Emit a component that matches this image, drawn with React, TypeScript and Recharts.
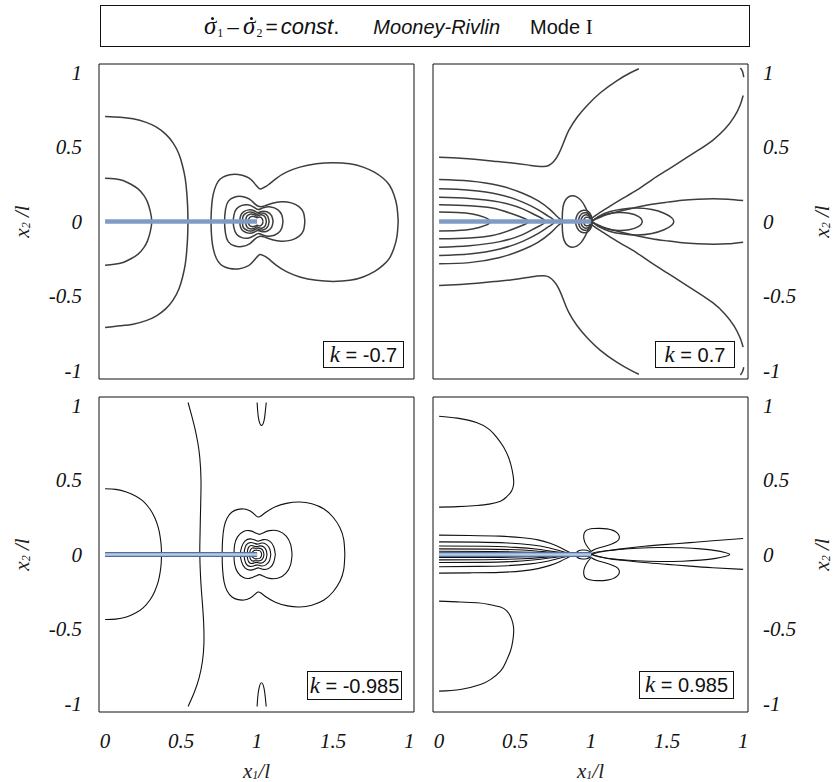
import React from 'react';
import { LineChart, Line, XAxis, YAxis } from 'recharts';

type P = [number, number][];

// ---------- axis ticks / labels ----------
const xFrameTicks = [0, 0.25, 0.5, 0.75, 1, 1.25, 1.5, 1.75, 2];
const yFrameTicks = [-1, -0.75, -0.5, -0.25, 0, 0.25, 0.5, 0.75, 1];
const xLabelTicks = [0, 0.5, 1, 1.5, 2];
const xTickLabels = ['0', '0.5', '1', '1.5', '1'];
const yLabelTicks = [-1, -0.5, 0, 0.5, 1];
const yTickLabels = ['-1', '-0.5', '0', '0.5', '1'];
const kLabels = ['-0.7', '0.7', '-0.985', '0.985'];
const crack: P = [[0, 0], [1, 0]];

// ---------- k = -0.7 (top left) ----------
const tlOuterArc: P = [[0,0.705],[0.1,0.7],[0.184,0.689],[0.27,0.665],[0.338,0.633],[0.4,0.585],[0.447,0.528],[0.485,0.455],[0.509,0.376],[0.527,0.29],[0.537,0.197],[0.543,0.1],[0.545,0],[0.543,-0.1],[0.537,-0.197],[0.527,-0.29],[0.509,-0.376],[0.485,-0.455],[0.447,-0.528],[0.4,-0.585],[0.338,-0.633],[0.27,-0.665],[0.184,-0.689],[0.1,-0.7],[0,-0.712]];
const tlInnerArc: P = [[0,0.291],[0.06,0.287],[0.118,0.275],[0.17,0.25],[0.217,0.219],[0.255,0.175],[0.279,0.13],[0.297,0.07],[0.307,0],[0.297,-0.07],[0.279,-0.13],[0.255,-0.175],[0.217,-0.219],[0.17,-0.25],[0.118,-0.275],[0.06,-0.287],[0,-0.293]];
const tlPeanutA: P = [[1.928,0],[1.92,0.1],[1.9,0.18],[1.87,0.245],[1.829,0.29],[1.774,0.33],[1.697,0.365],[1.61,0.387],[1.5,0.394],[1.39,0.387],[1.281,0.365],[1.193,0.331],[1.127,0.29],[1.072,0.245],[1.04,0.226],[1.018,0.219],[0.996,0.24],[0.963,0.278],[0.93,0.3],[0.875,0.315],[0.82,0.313],[0.776,0.298],[0.743,0.268],[0.721,0.219],[0.706,0.152],[0.699,0.074],[0.697,0],[0.699,-0.074],[0.706,-0.152],[0.721,-0.219],[0.743,-0.268],[0.776,-0.3],[0.82,-0.316],[0.875,-0.318],[0.93,-0.303],[0.963,-0.28],[0.996,-0.242],[1.018,-0.221],[1.04,-0.228],[1.072,-0.248],[1.127,-0.294],[1.193,-0.336],[1.281,-0.372],[1.39,-0.395],[1.5,-0.402],[1.61,-0.395],[1.697,-0.372],[1.774,-0.335],[1.829,-0.293],[1.87,-0.247],[1.9,-0.18],[1.92,-0.1],[1.928,0]];
const tlPeanutB: P = [[1.314,0],[1.305,0.06],[1.275,0.1],[1.225,0.125],[1.16,0.132],[1.1,0.122],[1.05,0.105],[1.015,0.1],[0.985,0.118],[0.95,0.15],[0.9,0.168],[0.85,0.163],[0.81,0.135],[0.792,0.08],[0.786,0],[0.792,-0.08],[0.81,-0.135],[0.85,-0.163],[0.9,-0.168],[0.95,-0.15],[0.985,-0.118],[1.015,-0.1],[1.05,-0.105],[1.1,-0.122],[1.16,-0.132],[1.225,-0.125],[1.275,-0.1],[1.305,-0.06],[1.314,0]];
const tlPeanutC: P = [[1.17,0],[1.162,0.045],[1.135,0.08],[1.09,0.098],[1.04,0.092],[1.008,0.08],[0.98,0.095],[0.94,0.112],[0.9,0.108],[0.865,0.085],[0.848,0.045],[0.843,0],[0.848,-0.045],[0.865,-0.085],[0.9,-0.108],[0.94,-0.112],[0.98,-0.095],[1.008,-0.08],[1.04,-0.092],[1.09,-0.098],[1.135,-0.08],[1.162,-0.045],[1.17,0]];
const tlRing1: P = [[1.105,0],[1.095,0.04],[1.065,0.065],[1.03,0.068],[1.005,0.06],[0.98,0.072],[0.945,0.078],[0.91,0.065],[0.892,0.04],[0.886,0],[0.892,-0.04],[0.91,-0.065],[0.945,-0.078],[0.98,-0.072],[1.005,-0.06],[1.03,-0.068],[1.065,-0.065],[1.095,-0.04],[1.105,0]];
const tlRing2: P = [[1.079,0],[1.07,0.035],[1.045,0.055],[1.015,0.055],[0.998,0.048],[0.975,0.06],[0.945,0.063],[0.918,0.05],[0.906,0.03],[0.904,0],[0.906,-0.03],[0.918,-0.05],[0.945,-0.063],[0.975,-0.06],[0.998,-0.048],[1.015,-0.055],[1.045,-0.055],[1.07,-0.035],[1.079,0]];
const tlRing3: P = [[1.061,0],[1.054,0.028],[1.035,0.043],[1.012,0.042],[0.998,0.036],[0.98,0.046],[0.955,0.049],[0.935,0.038],[0.927,0.02],[0.925,0],[0.927,-0.02],[0.935,-0.038],[0.955,-0.049],[0.98,-0.046],[0.998,-0.036],[1.012,-0.042],[1.035,-0.043],[1.054,-0.028],[1.061,0]];
const tlRing4: P = [[1.039,0],[1.033,0.02],[1.018,0.03],[1.0,0.026],[0.985,0.032],[0.965,0.034],[0.95,0.026],[0.943,0.012],[0.941,0],[0.943,-0.012],[0.95,-0.026],[0.965,-0.034],[0.985,-0.032],[1.0,-0.026],[1.018,-0.03],[1.033,-0.02],[1.039,0]];

// ---------- k = 0.7 (top right) ----------
const trTop: P = [[0,0.432],[0.14,0.425],[0.25,0.416],[0.36,0.405],[0.469,0.394],[0.579,0.38],[0.645,0.371],[0.689,0.369],[0.721,0.376],[0.754,0.403],[0.787,0.454],[0.82,0.532],[0.853,0.611],[0.908,0.7],[0.974,0.779],[1.061,0.864],[1.171,0.946],[1.259,0.998],[1.314,1.025]];
const trBottom: P = [[0,-0.43],[0.14,-0.422],[0.25,-0.414],[0.36,-0.403],[0.469,-0.392],[0.579,-0.376],[0.645,-0.366],[0.689,-0.364],[0.721,-0.372],[0.754,-0.4],[0.787,-0.45],[0.82,-0.53],[0.853,-0.61],[0.908,-0.7],[0.974,-0.78],[1.061,-0.865],[1.171,-0.946],[1.259,-0.998],[1.314,-1.025]];
const trWingUp: P = [[1.0,0.02],[1.05,0.055],[1.12,0.1],[1.2,0.15],[1.3,0.21],[1.4,0.28],[1.5,0.345],[1.6,0.41],[1.7,0.475],[1.8,0.545],[1.88,0.62],[1.94,0.7],[1.98,0.78],[2.0,0.846]];
const trWingDown: P = [[1.0,-0.02],[1.05,-0.055],[1.12,-0.1],[1.2,-0.15],[1.3,-0.21],[1.4,-0.28],[1.5,-0.345],[1.6,-0.41],[1.7,-0.475],[1.8,-0.545],[1.88,-0.62],[1.94,-0.7],[1.98,-0.78],[2.0,-0.843]];
const trCornerTop: P = [[1.982,1.03],[1.996,1.007],[2.004,0.969]];
const trCornerBot: P = [[1.982,-1.03],[1.996,-1.007],[2.004,-0.978]];
const trRightOpen: P = [[2.0,0.141],[1.9,0.15],[1.8,0.153],[1.7,0.15],[1.6,0.143],[1.5,0.13],[1.4,0.115],[1.3,0.095],[1.2,0.072],[1.1,0.045],[1.04,0.02],[1.005,0.003],[1.04,-0.02],[1.1,-0.045],[1.2,-0.072],[1.3,-0.095],[1.4,-0.115],[1.5,-0.13],[1.6,-0.143],[1.7,-0.15],[1.8,-0.153],[1.9,-0.15],[2.0,-0.139]];
const trLoopBig: P = [[1.005,0],[1.05,0.035],[1.12,0.065],[1.2,0.082],[1.3,0.09],[1.4,0.08],[1.48,0.055],[1.53,0.025],[1.544,0],[1.53,-0.025],[1.48,-0.055],[1.4,-0.08],[1.3,-0.09],[1.2,-0.082],[1.12,-0.065],[1.05,-0.035],[1.005,0]];
const trLoopSmall: P = [[1.005,0],[1.04,0.025],[1.1,0.048],[1.18,0.06],[1.25,0.055],[1.31,0.035],[1.336,0],[1.31,-0.035],[1.25,-0.055],[1.18,-0.06],[1.1,-0.048],[1.04,-0.025],[1.005,0]];
const trButterfly: P = [[0.81,0],[0.812,0.07],[0.822,0.125],[0.845,0.16],[0.875,0.172],[0.905,0.165],[0.935,0.14],[0.96,0.1],[0.98,0.055],[0.995,0.015],[1.0,0],[0.995,-0.015],[0.98,-0.055],[0.96,-0.1],[0.935,-0.14],[0.905,-0.165],[0.875,-0.172],[0.845,-0.16],[0.822,-0.125],[0.812,-0.07],[0.81,0]];
const trTip1: P = [[1.01,0],[1.0,0.04],[0.98,0.068],[0.95,0.075],[0.92,0.06],[0.903,0.03],[0.898,0],[0.903,-0.03],[0.92,-0.06],[0.95,-0.075],[0.98,-0.068],[1.0,-0.04],[1.01,0]];
const trTip2: P = [[1.008,0],[0.998,0.035],[0.98,0.055],[0.955,0.058],[0.932,0.045],[0.92,0.022],[0.918,0],[0.92,-0.022],[0.932,-0.045],[0.955,-0.058],[0.98,-0.055],[0.998,-0.035],[1.008,0]];
const trTip3: P = [[1.006,0],[0.997,0.028],[0.98,0.042],[0.96,0.044],[0.943,0.032],[0.935,0.015],[0.934,0],[0.935,-0.015],[0.943,-0.032],[0.96,-0.044],[0.98,-0.042],[0.997,-0.028],[1.006,0]];
const trTip4: P = [[1.004,0],[0.996,0.018],[0.98,0.028],[0.965,0.028],[0.955,0.018],[0.951,0],[0.955,-0.018],[0.965,-0.028],[0.98,-0.028],[0.996,-0.018],[1.004,0]];
const trE1: P = [[0,0.282],[0.2,0.272],[0.4,0.24],[0.55,0.19],[0.65,0.14],[0.73,0.08],[0.78,0.03],[0.81,0],[0.78,-0.03],[0.73,-0.08],[0.65,-0.14],[0.55,-0.19],[0.4,-0.242],[0.2,-0.276],[0,-0.284]];
const trE2: P = [[0,0.219],[0.2,0.21],[0.4,0.18],[0.55,0.13],[0.65,0.08],[0.72,0.035],[0.76,0],[0.72,-0.035],[0.65,-0.082],[0.55,-0.133],[0.4,-0.185],[0.2,-0.218],[0,-0.228]];
const trE3: P = [[0,0.163],[0.2,0.155],[0.4,0.13],[0.55,0.085],[0.64,0.04],[0.7,0],[0.64,-0.04],[0.55,-0.088],[0.4,-0.135],[0.2,-0.162],[0,-0.172]];
const trE4: P = [[0,0.112],[0.2,0.106],[0.35,0.09],[0.47,0.055],[0.55,0.025],[0.59,0],[0.55,-0.025],[0.47,-0.057],[0.35,-0.094],[0.2,-0.11],[0,-0.116]];
const trE5: P = [[0,0.063],[0.12,0.06],[0.22,0.05],[0.3,0.028],[0.338,0],[0.3,-0.028],[0.22,-0.05],[0.12,-0.06],[0,-0.063]];

// ---------- k = -0.985 (bottom left) ----------
const blArc: P = [[0,0.441],[0.07,0.437],[0.14,0.42],[0.2,0.393],[0.25,0.358],[0.295,0.305],[0.327,0.246],[0.35,0.18],[0.362,0.12],[0.369,0.06],[0.371,0],[0.369,-0.06],[0.362,-0.12],[0.35,-0.18],[0.327,-0.246],[0.295,-0.305],[0.25,-0.358],[0.2,-0.393],[0.14,-0.42],[0.07,-0.434],[0,-0.436]];
const blWavy: P = [[0.546,1.02],[0.57,0.93],[0.59,0.85],[0.61,0.75],[0.623,0.65],[0.631,0.5],[0.628,0.3],[0.624,0.1],[0.623,0],[0.628,-0.15],[0.638,-0.3],[0.648,-0.45],[0.65,-0.6],[0.64,-0.72],[0.618,-0.83],[0.585,-0.93],[0.546,-1.02]];
const blCapTop: P = [[1.0,1.02],[1.004,0.96],[1.012,0.9],[1.029,0.866],[1.046,0.9],[1.054,0.96],[1.06,1.02]];
const blCapBot: P = [[1.0,-1.02],[1.004,-0.96],[1.012,-0.9],[1.029,-0.861],[1.046,-0.9],[1.054,-0.96],[1.06,-1.02]];
const blPeanutA: P = [[1.577,0],[1.57,0.1],[1.545,0.18],[1.5,0.25],[1.44,0.305],[1.36,0.34],[1.28,0.352],[1.2,0.345],[1.12,0.32],[1.06,0.285],[1.025,0.258],[1.005,0.252],[0.985,0.268],[0.955,0.292],[0.915,0.305],[0.875,0.303],[0.835,0.285],[0.803,0.245],[0.783,0.185],[0.773,0.1],[0.77,0],[0.773,-0.1],[0.783,-0.185],[0.803,-0.245],[0.835,-0.285],[0.875,-0.303],[0.915,-0.305],[0.955,-0.292],[0.985,-0.268],[1.005,-0.252],[1.025,-0.258],[1.06,-0.285],[1.12,-0.32],[1.2,-0.345],[1.28,-0.352],[1.36,-0.34],[1.44,-0.305],[1.5,-0.25],[1.545,-0.18],[1.57,-0.1],[1.577,0]];
const blPeanutB: P = [[1.23,0],[1.22,0.07],[1.19,0.125],[1.14,0.158],[1.08,0.16],[1.04,0.145],[1.015,0.135],[0.99,0.145],[0.95,0.16],[0.91,0.155],[0.872,0.12],[0.852,0.065],[0.848,0],[0.852,-0.065],[0.872,-0.12],[0.91,-0.155],[0.95,-0.16],[0.99,-0.145],[1.015,-0.135],[1.04,-0.145],[1.08,-0.16],[1.14,-0.158],[1.19,-0.125],[1.22,-0.07],[1.23,0]];
const blRing1: P = [[1.12,0],[1.11,0.05],[1.085,0.088],[1.045,0.1],[1.012,0.09],[0.99,0.095],[0.955,0.105],[0.92,0.09],[0.898,0.05],[0.89,0],[0.898,-0.05],[0.92,-0.09],[0.955,-0.105],[0.99,-0.095],[1.012,-0.09],[1.045,-0.1],[1.085,-0.088],[1.11,-0.05],[1.12,0]];
const blRing2: P = [[1.09,0],[1.082,0.04],[1.06,0.068],[1.03,0.077],[1.005,0.07],[0.985,0.074],[0.955,0.08],[0.93,0.066],[0.918,0.035],[0.915,0],[0.918,-0.035],[0.93,-0.066],[0.955,-0.08],[0.985,-0.074],[1.005,-0.07],[1.03,-0.077],[1.06,-0.068],[1.082,-0.04],[1.09,0]];
const blRing3: P = [[1.065,0],[1.059,0.03],[1.042,0.052],[1.018,0.058],[1.0,0.053],[0.982,0.056],[0.96,0.06],[0.944,0.048],[0.937,0.025],[0.935,0],[0.937,-0.025],[0.944,-0.048],[0.96,-0.06],[0.982,-0.056],[1.0,-0.053],[1.018,-0.058],[1.042,-0.052],[1.059,-0.03],[1.065,0]];
const blRing4: P = [[1.045,0],[1.04,0.022],[1.027,0.038],[1.008,0.043],[0.99,0.042],[0.97,0.044],[0.958,0.034],[0.952,0.018],[0.95,0],[0.952,-0.018],[0.958,-0.034],[0.97,-0.044],[0.99,-0.042],[1.008,-0.043],[1.027,-0.038],[1.04,-0.022],[1.045,0]];
const blRing5: P = [[1.03,0],[1.026,0.015],[1.016,0.026],[1.0,0.029],[0.985,0.028],[0.972,0.02],[0.966,0.01],[0.965,0],[0.966,-0.01],[0.972,-0.02],[0.985,-0.028],[1.0,-0.029],[1.016,-0.026],[1.026,-0.015],[1.03,0]];

// ---------- k = 0.985 (bottom right) ----------
const brTopLobe: P = [[0,0.928],[0.12,0.915],[0.25,0.884],[0.33,0.84],[0.382,0.783],[0.425,0.72],[0.458,0.649],[0.48,0.57],[0.491,0.492],[0.485,0.445],[0.469,0.414],[0.44,0.383],[0.404,0.358],[0.33,0.338],[0.25,0.329],[0.12,0.321],[0,0.318]];
const brBotLobe: P = [[0,-0.313],[0.12,-0.318],[0.25,-0.324],[0.33,-0.335],[0.404,-0.353],[0.445,-0.378],[0.469,-0.414],[0.485,-0.46],[0.491,-0.515],[0.484,-0.585],[0.469,-0.649],[0.44,-0.72],[0.404,-0.783],[0.34,-0.838],[0.272,-0.872],[0.14,-0.906],[0,-0.917]];
const brH1: P = [[0,0.13],[0.2,0.128],[0.4,0.123],[0.55,0.112],[0.65,0.098],[0.73,0.075],[0.8,0.045],[0.85,0.018],[0.88,0],[0.85,-0.018],[0.8,-0.045],[0.73,-0.073],[0.65,-0.095],[0.55,-0.11],[0.4,-0.12],[0.2,-0.123],[0,-0.125]];
const brH2: P = [[0,0.085],[0.25,0.083],[0.45,0.077],[0.6,0.065],[0.72,0.045],[0.81,0.02],[0.87,0],[0.81,-0.02],[0.72,-0.044],[0.6,-0.063],[0.45,-0.075],[0.25,-0.08],[0,-0.082]];
const brH3: P = [[0,0.057],[0.3,0.055],[0.5,0.048],[0.65,0.035],[0.77,0.018],[0.86,0],[0.77,-0.018],[0.65,-0.034],[0.5,-0.046],[0.3,-0.053],[0,-0.054]];
const brH4: P = [[0,0.038],[0.3,0.036],[0.55,0.03],[0.7,0.018],[0.85,0],[0.7,-0.018],[0.55,-0.029],[0.3,-0.035],[0,-0.036]];
const brH5: P = [[0,0.022],[0.35,0.02],[0.6,0.014],[0.84,0],[0.6,-0.014],[0.35,-0.019],[0,-0.02]];
const brTipLoop: P = [[0.9,0],[0.91,0.02],[0.94,0.03],[0.97,0.028],[0.995,0.015],[1.0,0],[0.995,-0.015],[0.97,-0.028],[0.94,-0.03],[0.91,-0.02],[0.9,0]];
const brLobeUp: P = [[1.0,0.02],[0.97,0.06],[0.952,0.107],[0.963,0.157],[1.018,0.174],[1.105,0.172],[1.171,0.145],[1.182,0.1],[1.127,0.067],[1.039,0.04],[1.0,0.02]];
const brLobeDown: P = [[1.0,-0.02],[0.97,-0.06],[0.952,-0.107],[0.963,-0.157],[1.018,-0.174],[1.105,-0.172],[1.171,-0.145],[1.182,-0.1],[1.127,-0.067],[1.039,-0.04],[1.0,-0.02]];
const brRightOpen: P = [[2.0,0.107],[1.8,0.092],[1.65,0.08],[1.5,0.068],[1.35,0.055],[1.2,0.038],[1.1,0.025],[1.005,0.006],[1.1,-0.025],[1.2,-0.038],[1.35,-0.054],[1.5,-0.066],[1.65,-0.078],[1.8,-0.089],[2.0,-0.1]];
const brLongLoop: P = [[1.0,0],[1.05,0.015],[1.15,0.03],[1.3,0.042],[1.45,0.047],[1.6,0.045],[1.72,0.038],[1.82,0.026],[1.88,0.013],[1.912,0],[1.88,-0.013],[1.82,-0.026],[1.72,-0.038],[1.6,-0.045],[1.45,-0.047],[1.3,-0.042],[1.15,-0.03],[1.05,-0.015],[1.0,0]];

const tlCurves = [tlOuterArc, tlInnerArc, tlPeanutA, tlPeanutB, tlPeanutC, tlRing1, tlRing2, tlRing3, tlRing4];
const trCurves = [trTop, trBottom, trWingUp, trWingDown, trCornerTop, trCornerBot, trRightOpen, trLoopBig, trLoopSmall, trButterfly, trTip1, trTip2, trTip3, trTip4, trE1, trE2, trE3, trE4, trE5];
const blCurves = [blArc, blWavy, blCapTop, blCapBot, blPeanutA, blPeanutB, blRing1, blRing2, blRing3, blRing4, blRing5];
const brCurves = [brTopLobe, brBotLobe, brH1, brH2, brH3, brH4, brH5, brTipLoop, brLobeUp, brLobeDown, brRightOpen, brLongLoop];

const X_DOMAIN: [number, number] = [-0.04, 2.032];
const Y_DOMAIN: [number, number] = [-1.057, 1.057];

const SERIF = '"Liberation Serif", "DejaVu Serif", serif';
const SANS = '"Liberation Sans", Arial, sans-serif';

const toPts = (a: P) => a.map(([x, y]) => ({ x, y }));

const tickStyle = { fontFamily: SERIF, fontStyle: 'italic', fontSize: 21, fill: '#111' };

const makeYTitle = (dx: number) => (props: any) => {
  const vb = props.viewBox || { x: 0, y: 0, width: 0, height: 0 };
  const cx = vb.x + dx;
  const cy = vb.y + vb.height / 2;
  return (
    <text x={cx} y={cy} transform={`rotate(-90 ${cx} ${cy})`} textAnchor="middle" dominantBaseline="central"
      fontFamily={SERIF} fontStyle="italic" fontSize={21} fill="#222">
      x<tspan fontSize={12} dy={4}>2</tspan><tspan dy={-4}> /l</tspan>
    </text>
  );
};

const makeXTitle = (dy: number) => (props: any) => {
  const vb = props.viewBox || { x: 0, y: 0, width: 0, height: 0 };
  const cx = vb.x + vb.width / 2;
  const cy = vb.y + dy;
  return (
    <text x={cx} y={cy} textAnchor="middle" dominantBaseline="central"
      fontFamily={SERIF} fontStyle="italic" fontSize={21} fill="#222">
      x<tspan fontSize={12} dy={4}>1</tspan><tspan dy={-4}>/l</tspan>
    </text>
  );
};

type PanelProps = {
  left: number; top: number; width: number; height: number;
  margin: { top: number; right: number; bottom: number; left: number };
  curves: P[]; lineColor: string; lineWidth: number;
  bottomCrack: boolean; ySide: 'left' | 'right'; showX: boolean;
};

function Panel(p: PanelProps) {
  const frameAxis = {
    type: 'number' as const, domain: X_DOMAIN, allowDataOverflow: true, dataKey: 'x',
    ticks: xFrameTicks, interval: 0 as const, mirror: true, height: 20, tick: false as const, tickSize: 4,
    tickLine: { stroke: '#222' }, axisLine: { stroke: '#111' },
  };
  const frameYAxis = {
    type: 'number' as const, domain: Y_DOMAIN, allowDataOverflow: true,
    ticks: yFrameTicks, interval: 0 as const, mirror: true, width: 20, tick: false as const, tickSize: 4,
    tickLine: { stroke: '#222' }, axisLine: { stroke: '#111' },
  };
  return (
    <div style={{ position: 'absolute', left: p.left, top: p.top, width: p.width, height: p.height }}>
      <LineChart width={p.width} height={p.height} margin={p.margin}>
        <XAxis xAxisId="f" orientation="bottom" {...frameAxis} />
        <XAxis xAxisId="ft" orientation="top" {...frameAxis} />
        {p.showX && (
          <XAxis xAxisId="lab" orientation="bottom" type="number" dataKey="x" domain={X_DOMAIN} allowDataOverflow
            height={70} ticks={xLabelTicks} interval={0}
            tickFormatter={(_v: number, i: number) => xTickLabels[i]}
            tickSize={0} tickMargin={21} axisLine={false} tickLine={false} tick={tickStyle}
            label={{ content: makeXTitle(59) }} />
        )}
        <YAxis yAxisId="f" orientation="left" {...frameYAxis} />
        <YAxis yAxisId="fr" orientation="right" {...frameYAxis} />
        <YAxis yAxisId="lab" orientation={p.ySide} type="number" domain={Y_DOMAIN} allowDataOverflow
          width={p.ySide === 'left' ? 82 : 80} ticks={yLabelTicks} interval={0}
          tickFormatter={(_v: number, i: number) => yTickLabels[i]}
          tickSize={0} tickMargin={p.ySide === 'left' ? 17 : 15} axisLine={false} tickLine={false} tick={tickStyle}
          label={{ content: makeYTitle(p.ySide === 'left' ? 5 : 74) }} />
        {p.curves.map((c, i) => (
          <Line key={i} xAxisId="f" yAxisId="f" data={toPts(c)} dataKey="y" type="natural"
            stroke={p.lineColor} strokeWidth={p.lineWidth} dot={false} activeDot={false}
            isAnimationActive={false} />
        ))}
        {p.bottomCrack ? (
          <Line xAxisId="f" yAxisId="f" data={toPts(crack)} dataKey="y" type="linear"
            stroke="#4f6ea2" strokeWidth={5} dot={false} activeDot={false} isAnimationActive={false} />
        ) : null}
        <Line xAxisId="f" yAxisId="f" data={toPts(crack)} dataKey="y" type="linear"
          stroke={p.bottomCrack ? '#b9cce6' : '#819bc6'} strokeWidth={p.bottomCrack ? 2.5 : 4.5}
          dot={false} activeDot={false} isAnimationActive={false} />
      </LineChart>
    </div>
  );
}

function KBox({ left, top, width, height, value }: { left: number; top: number; width: number; height: number; value: string }) {
  return (
    <div style={{
      position: 'absolute', left, top, width, height, boxSizing: 'border-box', border: '1px solid #111',
      background: '#fff', display: 'flex', alignItems: 'center', justifyContent: 'center',
      fontFamily: SANS, fontSize: 20, color: '#111', whiteSpace: 'nowrap',
    }}>
      <span>
        <span style={{ fontFamily: SERIF, fontStyle: 'italic', fontSize: 23 }}>k</span>
        <span> = {value}</span>
      </span>
    </div>
  );
}

function SigmaDot({ sub }: { sub: string }) {
  return (
    <span>
      <span style={{ position: 'relative', display: 'inline-block', fontFamily: SERIF, fontStyle: 'italic', fontSize: 25 }}>
        {'\u03C3'}
        <span style={{ position: 'absolute', left: 7, top: 5, width: 3, height: 3, borderRadius: 2, background: '#111' }} />
      </span>
      <span style={{ fontFamily: SERIF, fontSize: 12, verticalAlign: -3, marginLeft: 1 }}>{sub}</span>
    </span>
  );
}

export default function App() {
  return (
    <div style={{ position: 'absolute', left: 0, top: 0, width: 833, height: 782, background: '#fff', overflow: 'hidden' }}>
      <div style={{
        position: 'absolute', left: 100, top: 5, width: 650, height: 42, boxSizing: 'border-box',
        border: '1px solid #111', display: 'flex', alignItems: 'center', paddingLeft: 103,
        fontFamily: SANS, fontSize: 20, color: '#111', whiteSpace: 'nowrap',
      }}>
        <span>
          <SigmaDot sub="1" />
          <span style={{ margin: '0 4px', fontSize: 21 }}>{'\u2013'}</span>
          <SigmaDot sub="2" />
          <span style={{ margin: '0 3px', fontSize: 21 }}>=</span>
          <span style={{ fontStyle: 'italic', fontSize: 22 }}>const</span><span style={{ fontSize: 22 }}>.</span>
          <span style={{ fontStyle: 'italic', marginLeft: 34 }}>Mooney-Rivlin</span>
          <span style={{ marginLeft: 30 }}>Mode </span>
          <span style={{ fontFamily: SERIF, fontSize: 21 }}>I</span>
        </span>
      </div>

      <Panel left={0} top={50} width={420} height={340} margin={{ top: 14, right: 6, bottom: 11, left: 17 }}
        curves={tlCurves} lineColor="#3d3d3d" lineWidth={1.5} bottomCrack={false} ySide="left" showX={false} />
      <Panel left={420} top={50} width={413} height={340} margin={{ top: 14, right: 5, bottom: 11, left: 13 }}
        curves={trCurves} lineColor="#3d3d3d" lineWidth={1.5} bottomCrack={false} ySide="right" showX={false} />
      <Panel left={0} top={390} width={420} height={392} margin={{ top: 7, right: 6, bottom: 0, left: 17 }}
        curves={blCurves} lineColor="#111" lineWidth={1.1} bottomCrack={true} ySide="left" showX={true} />
      <Panel left={420} top={390} width={413} height={392} margin={{ top: 7, right: 5, bottom: 0, left: 13 }}
        curves={brCurves} lineColor="#111" lineWidth={1.1} bottomCrack={true} ySide="right" showX={true} />

      <KBox left={323} top={341} width={81} height={27} value={kLabels[0]} />
      <KBox left={655} top={341} width={80} height={27} value={kLabels[1]} />
      <KBox left={307} top={671} width={95} height={29} value={kLabels[2]} />
      <KBox left={639} top={671} width={95} height={28} value={kLabels[3]} />
    </div>
  );
}
